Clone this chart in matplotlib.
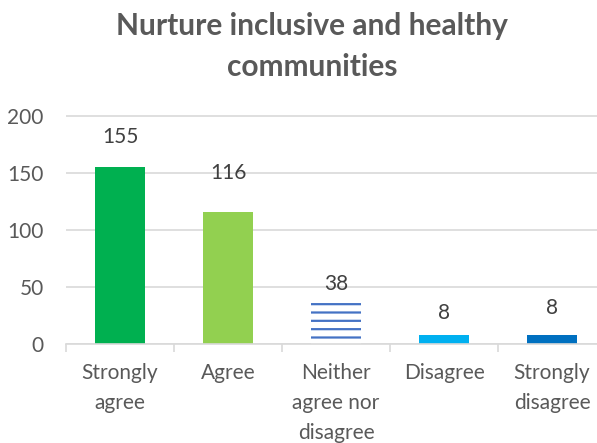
import matplotlib.pyplot as plt

plt.rcParams['font.family'] = ['Lato', 'DejaVu Sans']
plt.rcParams['hatch.linewidth'] = 1.6

# data
categories = ['Strongly\nagree', 'Agree', 'Neither\nagree nor\ndisagree', 'Disagree', 'Strongly\ndisagree']
counts = [155, 116, 38, 8, 8]
colors = ['#00B050', '#92D050', '#4472C4', '#00B0F0', '#0070C0']
hatches = [None, None, '--', None, None]
# how far each number label sits above its bar (points)
label_offsets = [22, 28, 12, 16, 19]

text_col = '#595959'
grid_col = '#D9D9D9'

fig = plt.figure(figsize=(5.97, 4.43), dpi=100)
ax = fig.add_axes([66 / 597, 99 / 443, 540 / 597, 245 / 443])

x = list(range(len(categories)))
for i in x:
    if hatches[i]:
        ax.bar(i, counts[i], width=0.47, facecolor='white', edgecolor=colors[i],
               linewidth=0, hatch=hatches[i], zorder=2)
    else:
        ax.bar(i, counts[i], width=0.47, color=colors[i], zorder=2)
    ax.annotate(str(counts[i]), (i, counts[i]), xytext=(0, label_offsets[i]),
                textcoords='offset points', ha='center', va='center',
                fontsize=15, color='#404040')

ax.set_xlim(-0.5, len(categories) - 0.5)
ax.set_ylim(0, 215)
ax.set_yticks([0, 50, 100, 150, 200])
ax.yaxis.grid(True, color=grid_col, linewidth=1.2, zorder=0)
ax.set_axisbelow(True)

ax.set_xticks(x)
ax.set_xticklabels(categories, fontsize=15, color=text_col, linespacing=1.6)
ax.set_xticks([i - 0.5 for i in range(len(categories) + 1)], minor=True)
ax.tick_params(axis='x', which='major', length=0, pad=14)
ax.tick_params(axis='x', which='minor', length=6, color=grid_col, width=1.2)
ax.tick_params(axis='y', length=0, pad=16, labelsize=15, labelcolor=text_col)

for s in ['top', 'right', 'left']:
    ax.spines[s].set_visible(False)
ax.spines['bottom'].set_color(grid_col)
ax.spines['bottom'].set_linewidth(1.2)

fig.text(312 / 597, 1 - 26 / 443, 'Nurture inclusive and healthy', ha='center', va='center',
         fontsize=21.5, fontweight='bold', color=text_col)
fig.text(312 / 597, 1 - 67 / 443, 'communities', ha='center', va='center',
         fontsize=21.5, fontweight='bold', color=text_col)

fig.savefig('out.png', dpi=100)
